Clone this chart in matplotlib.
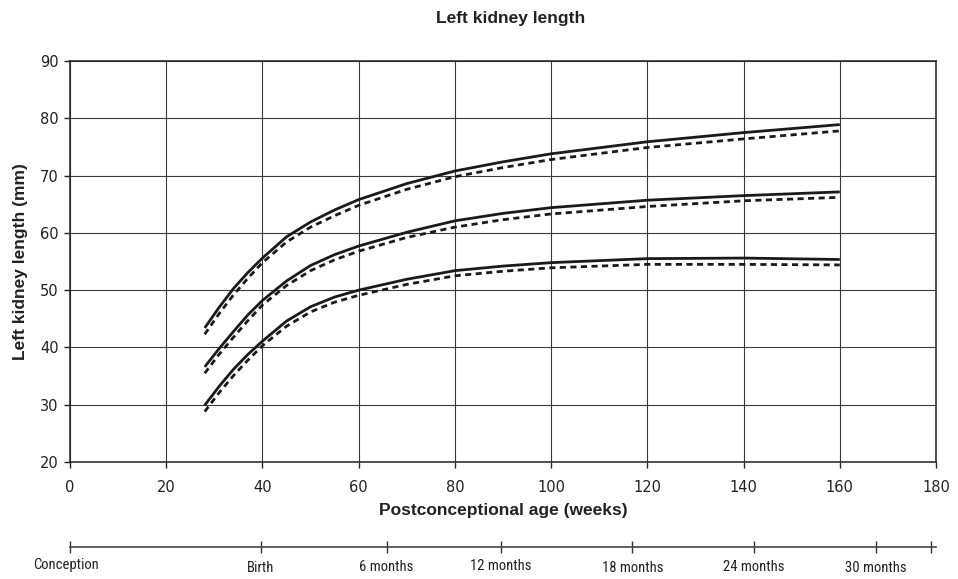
import matplotlib
matplotlib.use("Agg")
import matplotlib.pyplot as plt
from matplotlib import font_manager
from matplotlib.font_manager import FontProperties

# Postconceptional age (weeks) at which each curve was read
weeks = [28, 31, 34, 37, 40, 45, 50, 55, 60, 70, 80, 90, 100, 120, 140, 160]

# Kidney length curves (mm): solid and dashed, upper / middle / lower
upper_solid = [43.4, 47.0, 50.3, 53.1, 55.6, 59.3, 61.9, 64.0, 65.8, 68.6, 70.8, 72.4, 73.8, 75.9, 77.5, 78.9]
upper_dashed = [42.3, 45.9, 49.2, 52.1, 54.8, 58.4, 61.0, 63.0, 64.8, 67.6, 69.8, 71.4, 72.8, 74.9, 76.4, 77.8]
middle_solid = [36.6, 39.8, 42.8, 45.7, 48.2, 51.6, 54.3, 56.2, 57.7, 60.1, 62.1, 63.4, 64.4, 65.7, 66.5, 67.15]
middle_dashed = [35.5, 38.8, 41.8, 44.7, 47.4, 50.8, 53.4, 55.3, 56.8, 59.2, 61.0, 62.3, 63.3, 64.6, 65.6, 66.2]
lower_solid = [29.9, 33.2, 36.2, 38.8, 41.1, 44.6, 47.1, 48.8, 50.0, 51.9, 53.4, 54.2, 54.8, 55.5, 55.6, 55.35]
lower_dashed = [28.8, 32.1, 35.1, 37.8, 40.3, 43.7, 46.2, 47.9, 49.1, 51.0, 52.5, 53.3, 53.9, 54.5, 54.5, 54.4]

# Age landmarks on the timeline below the chart
landmark_pos = [0, 39.6, 65.8, 89.6, 116.9, 142.2, 167.5, 178.9]
landmark_labels = ["Conception", "Birth", "6 months", "12 months", "18 months", "24 months", "30 months", ""]


def find_narrow_font():
    # look for an upright, regular-weight condensed sans face
    fonts = [f for f in font_manager.fontManager.ttflist
             if f.style == "normal" and f.weight in (400, "normal", "regular")]
    for want in ("Liberation Sans Narrow", "Roboto Condensed", "Open Sans Condensed"):
        for f in fonts:
            if f.name == want:
                return FontProperties(fname=f.fname)
    for f in fonts:
        base = f.fname.rsplit("/", 1)[-1]
        if ("Narrow" in base or "Condensed" in base) and "Italic" not in base \
                and "Oblique" not in base and "Bold" not in base:
            return FontProperties(fname=f.fname)
    return None


plt.rcParams["font.family"] = ["Liberation Sans", "DejaVu Sans"]
narrow = find_narrow_font()

fig = plt.figure(figsize=(9.58, 5.79), dpi=100)
ax = fig.add_axes([70 / 958, 1 - 462 / 579, 866 / 958, 401 / 579])

for s in (upper_solid, middle_solid, lower_solid):
    ax.plot(weeks, s, color="#1a1a1a", lw=2.0, solid_capstyle="butt")
for s in (upper_dashed, middle_dashed, lower_dashed):
    ax.plot(weeks, s, color="#1a1a1a", lw=2.0, linestyle=(0, (2.2, 1.6)))

ax.set_xlim(0, 180)
ax.set_ylim(20, 90)
ax.set_xticks(range(0, 181, 20))
ax.set_yticks(range(20, 91, 10))
ax.grid(True, color="#3a3a3a", lw=0.8)
ax.set_axisbelow(True)
for sp in ax.spines.values():
    sp.set_color("#222222")
    sp.set_linewidth(1.1)
ax.tick_params(direction="out", length=4, width=1, colors="#222222",
               labelcolor="#222222")
ax.tick_params(axis="x", pad=9)
ax.tick_params(axis="y", pad=4)
for lab in ax.get_xticklabels() + ax.get_yticklabels():
    lab.set_family(["DejaVu Sans"])
    lab.set_fontsize(10.5)

ax.set_xlabel("Postconceptional age (weeks)", fontsize=12.5, fontweight="bold",
              color="#222222", labelpad=6)
ax.set_ylabel("Left kidney length (mm)", fontsize=12.5, fontweight="bold",
              color="#222222", labelpad=9)
fig.text(511 / 958, 1 - 19 / 579, "Left kidney length", ha="center", va="center",
         fontsize=12.5, fontweight="bold", color="#222222")

# Timeline of age landmarks
tl = fig.add_axes([70 / 958, 1 - 547 / 579, 866 / 958, 0.001])
tl.set_xlim(0, 180)
tl.set_ylim(0, 1)
for side in ("top", "left", "right"):
    tl.spines[side].set_visible(False)
tl.spines["bottom"].set_color("#444444")
tl.spines["bottom"].set_linewidth(1.2)
tl.set_yticks([])
tl.set_xticks(landmark_pos)
tl.set_xticklabels([])
tl.tick_params(axis="x", direction="inout", length=9, width=1, colors="#333333")
label_y = [565, 568, 567, 566, 568, 567, 568, 568]
for x, lab, py in zip(landmark_pos, landmark_labels, label_y):
    if not lab:
        continue
    if x == 0:
        xpix, ha = 33, "left"
    else:
        xpix, ha = 70 + x * 866 / 180, "center"
    t = fig.text(xpix / 958, 1 - py / 579, lab, ha=ha, va="center", color="#222222")
    if narrow is not None:
        t.set_fontproperties(narrow)
        t.set_fontsize(10.5)
    else:
        t.set_fontsize(8.8)

fig.savefig("out.png", dpi=100)
